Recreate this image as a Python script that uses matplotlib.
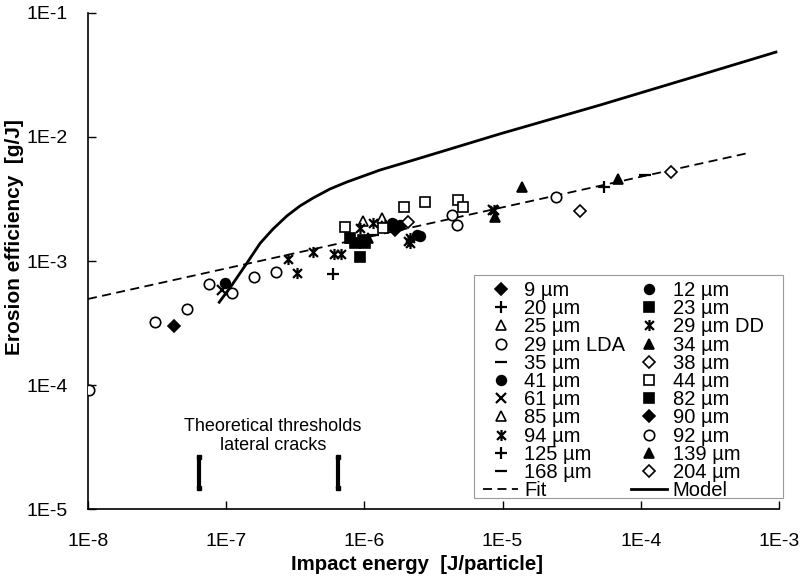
import matplotlib
matplotlib.use('Agg')
import matplotlib.pyplot as plt
from matplotlib.path import Path
from matplotlib.patches import Rectangle

plt.rcParams['font.family'] = ['Liberation Sans', 'DejaVu Sans']

# ---------------- data ----------------
x_ticks = [1e-8, 1e-7, 1e-6, 1e-5, 1e-4, 1e-3]
x_tick_labels = ['1E-8', '1E-7', '1E-6', '1E-5', '1E-4', '1E-3']
y_ticks = [1e-5, 1e-4, 1e-3, 1e-2, 1e-1]
y_tick_labels = ['1E-5', '1E-4', '1E-3', '1E-2', '1E-1']

e_9 = [4.2e-8];            v_9 = [3.0e-4]
e_12 = [9.8e-8];           v_12 = [6.65e-4]
e_20 = [5.9e-7];           v_20 = [7.9e-4]
e_23 = [7.9e-7, 9.8e-7, 8.5e-7];   v_23 = [1.53e-3, 1.48e-3, 1.40e-3]
e_25 = [1.34e-6];          v_25 = [2.22e-3]
e_29lda = [3.05e-8, 5.2e-8, 7.5e-8, 1.10e-7, 1.59e-7, 2.29e-7]
v_29lda = [3.22e-4, 4.10e-4, 6.53e-4, 5.52e-4, 7.43e-4, 8.15e-4]
e_35 = [1.15e-6];          v_35 = [1.62e-3]
e_41 = [2.40e-6, 1.58e-6, 1.81e-6, 2.52e-6]
v_41 = [1.62e-3, 2.02e-3, 1.95e-3, 1.60e-3]
e_61 = [8.5e-6, 9.3e-8];   v_61 = [2.58e-3, 5.8e-4]
e_85 = [9.8e-7];           v_85 = [2.10e-3]
e_94 = [2.80e-7, 3.25e-7, 4.25e-7, 6.0e-7, 6.8e-7, 2.07e-6, 2.14e-6]
v_94 = [1.04e-3, 8.0e-4, 1.18e-3, 1.14e-3, 1.14e-3, 1.45e-3, 1.40e-3]
e_125 = [5.4e-5];          v_125 = [3.95e-3]
e_168 = [1.07e-4];         v_168 = [4.94e-3]
e_29dd = [9.3e-7, 1.15e-6, 2.14e-6, 8.6e-6, 1.42e-6]
v_29dd = [1.85e-3, 2.02e-3, 1.53e-3, 2.6e-3, 1.95e-3]
e_34 = [8.8e-6, 7.9e-7, 1.06e-6]; v_34 = [2.26e-3, 1.53e-3, 1.53e-3]
e_38 = [2.07e-6, 3.63e-5]; v_38 = [2.06e-3, 2.53e-3]
e_44 = [7.24e-7, 1.94e-6, 2.74e-6, 4.75e-6, 5.16e-6, 1.36e-6]
v_44 = [1.88e-3, 2.72e-3, 2.99e-3, 3.10e-3, 2.72e-3, 1.85e-3]
e_82 = [9.3e-7, 1.01e-6];  v_82 = [1.08e-3, 1.40e-3]
e_90 = [1.7e-6, 1.66e-6];  v_90 = [1.9e-3, 1.78e-3]
e_92 = [1.02e-8, 4.31e-6, 4.68e-6, 2.43e-5]
v_92 = [9.12e-5, 2.35e-3, 1.95e-3, 3.28e-3]
e_139 = [1.38e-5, 6.84e-5]; v_139 = [3.95e-3, 4.59e-3]
e_204 = [1.66e-4];         v_204 = [5.22e-3]

fit_e = [1e-8, 6.0e-4]
fit_v = [4.94e-4, 7.43e-3]

model_e = [8.9e-8, 1.10e-7, 1.41e-7, 1.76e-7, 2.18e-7, 2.75e-7, 3.42e-7, 4.25e-7,
           5.64e-7, 7.48e-7, 1.30e-6, 2.25e-6, 3.94e-6, 9.58e-6, 5.07e-5, 2.68e-4, 9.5e-4]
model_v = [4.65e-4, 6.4e-4, 9.6e-4, 1.39e-3, 1.81e-3, 2.31e-3, 2.78e-3, 3.22e-3,
           3.81e-3, 4.34e-3, 5.42e-3, 6.5e-3, 7.85e-3, 1.06e-2, 1.81e-2, 3.16e-2, 4.84e-2]

thr_e = [6.35e-8, 6.44e-7]
thr_lo = 1.48e-5
thr_hi = 2.62e-5

# ---------------- styles ----------------
star = Path([(-1, -1), (1, 1), (-1, 1), (1, -1), (0, -1.25), (0, 1.25)],
            [Path.MOVETO, Path.LINETO, Path.MOVETO, Path.LINETO, Path.MOVETO, Path.LINETO])

fig = plt.figure(figsize=(8.05, 5.78), dpi=100)
ax = fig.add_axes([88/805, 1-509/578, (779-88)/805, (509-13)/578])
ax.set_xscale('log')
ax.set_yscale('log')
ax.set_xlim(1e-8, 1e-3)
ax.set_ylim(1e-5, 1e-1)

K = 'black'
W = 'white'
series = [
    (e_9, v_9, '9 µm', 'D', True, 6),
    (e_20, v_20, '20 µm', '+', True, 9),
    (e_25, v_25, '25 µm', '^', False, 7),
    (e_29lda, v_29lda, '29 µm LDA', 'o', False, 7.5),
    (e_35, v_35, '35 µm', '_', True, 9),
    (e_41, v_41, '41 µm', 'o', True, 7),
    (e_61, v_61, '61 µm', 'x', True, 7),
    (e_85, v_85, '85 µm', '^', False, 7),
    (e_94, v_94, '94 µm', star, True, 8),
    (e_125, v_125, '125 µm', '+', True, 9),
    (e_168, v_168, '168 µm', '_', True, 9),
    (e_12, v_12, '12 µm', 'o', True, 7),
    (e_23, v_23, '23 µm', 's', True, 6.5),
    (e_29dd, v_29dd, '29 µm DD', star, True, 8),
    (e_34, v_34, '34 µm', '^', True, 7),
    (e_38, v_38, '38 µm', 'D', False, 6),
    (e_44, v_44, '44 µm', 's', False, 7),
    (e_82, v_82, '82 µm', 's', True, 6.5),
    (e_90, v_90, '90 µm', 'D', True, 6),
    (e_92, v_92, '92 µm', 'o', False, 7.5),
    (e_139, v_139, '139 µm', '^', True, 7),
    (e_204, v_204, '204 µm', 'D', False, 6),
]

handles = {}
for e, v, lab, mk, filled, ms in series:
    mew = 1.6 if (mk is star or mk in ('+', 'x', '_')) else 1.2
    h, = ax.plot(e, v, linestyle='none', marker=mk, markersize=ms,
                 markerfacecolor=K if filled else W, markeredgecolor=K,
                 markeredgewidth=mew, label=lab, zorder=3)
    handles[lab] = h

hfit, = ax.plot(fit_e, fit_v, color=K, lw=1.3, linestyle=(0, (5, 3)), zorder=2, label='Fit')
hmod, = ax.plot(model_e, model_v, color=K, lw=2.0, zorder=4, label='Model',
                solid_joinstyle='round')

for te in thr_e:
    ax.plot([te, te], [thr_lo, thr_hi], color=K, lw=3, marker='s', markersize=3.5,
            solid_capstyle='butt', zorder=3)

ax.text(2.18e-7, 3.88e-5, 'Theoretical thresholds\nlateral cracks', ha='center', va='center',
        fontsize=13, linespacing=1.1)

# axes styling
for s in ('top', 'right'):
    ax.spines[s].set_visible(False)
for s in ('left', 'bottom'):
    ax.spines[s].set_linewidth(1.2)
ax.set_xticks(x_ticks)
ax.set_xticklabels(x_tick_labels)
ax.set_yticks(y_ticks)
ax.set_yticklabels(y_tick_labels)
ax.minorticks_off()
ax.tick_params(axis='both', direction='in', length=5.5, width=1.0, labelsize=14)
ax.tick_params(axis='x', pad=17.5)
ax.tick_params(axis='y', pad=14.5)

ax.set_xlabel('Impact energy  [J/particle]', fontsize=14.7, fontweight='bold')
ax.xaxis.set_label_coords(0.476, -0.092)
ax.set_ylabel('Erosion efficiency  [g/J]', fontsize=15, fontweight='bold')
ax.yaxis.set_label_coords(-0.093, 0.548)

# legend box (frame drawn separately to match the reference's padding)
ax.add_patch(Rectangle((474/805, 1-498/578), 309/805, 223/578, transform=fig.transFigure,
                       facecolor='white', edgecolor='#9a9a9a', lw=0.8, zorder=5,
                       clip_on=False))

left_col = ['9 µm', '20 µm', '25 µm', '29 µm LDA', '35 µm', '41 µm', '61 µm', '85 µm',
            '94 µm', '125 µm', '168 µm']
right_col = ['12 µm', '23 µm', '29 µm DD', '34 µm', '38 µm', '44 µm', '82 µm', '90 µm',
             '92 µm', '139 µm', '204 µm']
hl = [handles[k] for k in left_col] + [hfit] + [handles[k] for k in right_col] + [hmod]
ll = left_col + ['Fit'] + right_col + ['Model']
leg = ax.legend(hl, ll, ncol=2, loc='upper left',
                bbox_to_anchor=(483/805, 1-281/578), bbox_transform=fig.transFigure,
                borderaxespad=0, fontsize=14.5, frameon=False,
                labelspacing=-0.04, handlelength=1.75,
                handletextpad=0.3, columnspacing=0.3, borderpad=0.0, numpoints=1)
leg.set_zorder(6)

fig.savefig('out.png', dpi=100)
